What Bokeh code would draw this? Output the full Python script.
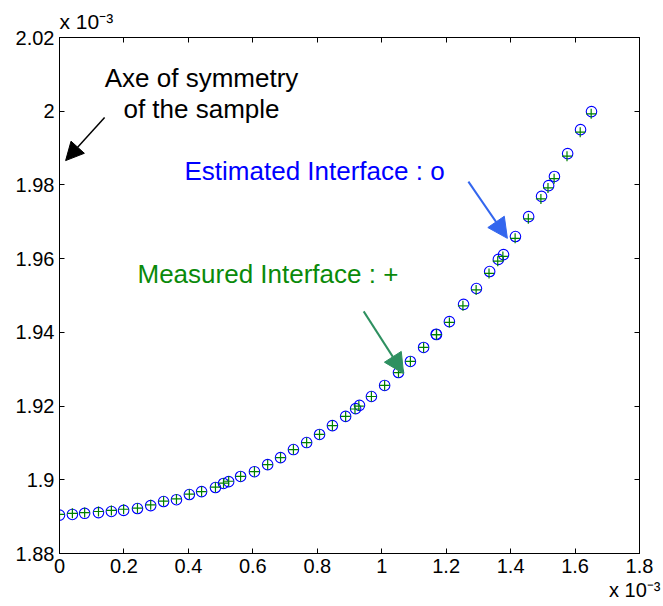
from bokeh.plotting import figure
from bokeh.models import (Range1d, FixedTicker, LinearAxis, Label, Arrow,
                          NormalHead, CustomJSTickFormatter, Title)
from bokeh.embed import file_html
from bokeh.resources import INLINE

# values in units of 1e-3 (axes show "x 10^-3")
x_est = [0.000, 0.040, 0.078, 0.121, 0.161, 0.199, 0.242, 0.283, 0.323, 0.363,
         0.403, 0.441, 0.484, 0.509, 0.525, 0.562, 0.605, 0.646, 0.686, 0.726,
         0.767, 0.807, 0.847, 0.888, 0.919, 0.931, 0.968, 1.009, 1.052, 1.089,
         1.130, 1.169, 1.170, 1.210, 1.254, 1.294, 1.335, 1.362, 1.378, 1.415,
         1.456, 1.496, 1.518, 1.536, 1.577, 1.617, 1.651]
y_est = [1.8904, 1.8906, 1.8909, 1.8911, 1.8914, 1.8917, 1.8922, 1.8930, 1.8941, 1.8946,
         1.8960, 1.8968, 1.8979, 1.8990, 1.8995, 1.9009, 1.9022, 1.9041, 1.9060, 1.9082,
         1.9101, 1.9123, 1.9147, 1.9172, 1.9193, 1.9202, 1.9226, 1.9256, 1.9291, 1.9321,
         1.9359, 1.9395, 1.9394, 1.9429, 1.9476, 1.9519, 1.9565, 1.9598, 1.9611, 1.9660,
         1.9714, 1.9769, 1.9798, 1.9823, 1.9885, 1.9950, 1.9999]

x_meas = [0.000, 0.040, 0.078, 0.121, 0.161, 0.199, 0.242, 0.283, 0.323, 0.363,
          0.403, 0.441, 0.484, 0.509, 0.525, 0.562, 0.605, 0.646, 0.686, 0.726,
          0.767, 0.807, 0.847, 0.888, 0.917, 0.929, 0.968, 1.009, 1.052, 1.089,
          1.130, 1.170, 1.170, 1.210, 1.252, 1.293, 1.333, 1.360, 1.376, 1.414,
          1.455, 1.494, 1.516, 1.535, 1.575, 1.616, 1.650]
y_meas = [1.8906, 1.8909, 1.8911, 1.8914, 1.8917, 1.8920, 1.8923, 1.8932, 1.8942, 1.8948,
          1.8961, 1.8968, 1.8980, 1.8991, 1.8996, 1.9009, 1.9022, 1.9041, 1.9060, 1.9082,
          1.9101, 1.9123, 1.9147, 1.9172, 1.9192, 1.9200, 1.9226, 1.9256, 1.9291, 1.9321,
          1.9359, 1.9394, 1.9394, 1.9427, 1.9472, 1.9515, 1.9560, 1.9593, 1.9606, 1.9655,
          1.9708, 1.9762, 1.9792, 1.9817, 1.9878, 1.9943, 1.9993]

x_ticks = [0, 0.2, 0.4, 0.6, 0.8, 1.0, 1.2, 1.4, 1.6, 1.8]
y_ticks = [1.88, 1.90, 1.92, 1.94, 1.96, 1.98, 2.00, 2.02]

FONT = "Liberation Sans"

p = figure(width=663, height=606, output_backend="svg", toolbar_location=None,
           x_range=Range1d(0, 1.8), y_range=Range1d(1.88, 2.02),
           min_border_left=59, min_border_right=24, min_border_top=37,
           min_border_bottom=53)
p.grid.visible = False
p.outline_line_color = "black"
p.background_fill_color = "white"
p.border_fill_color = "white"

fmt = CustomJSTickFormatter(code="return String(Math.round(tick*1000)/1000);")

for ax, ticks in ((p.xaxis[0], x_ticks), (p.yaxis[0], y_ticks)):
    ax.ticker = FixedTicker(ticks=ticks)
    ax.formatter = fmt
    ax.major_tick_in = 5
    ax.major_tick_out = 0
    ax.minor_tick_line_color = None
    ax.axis_line_color = "black"
    ax.major_tick_line_color = "black"
    ax.major_label_text_font = FONT
    ax.major_label_text_font_size = "20px"
    ax.major_label_text_color = "black"
p.xaxis[0].major_label_standoff = 5
p.yaxis[0].major_label_standoff = 5

for place, ticks in (("above", x_ticks), ("right", y_ticks)):
    ax = LinearAxis(ticker=FixedTicker(ticks=ticks), major_label_text_color=None,
                    major_label_text_font_size="1px", major_tick_in=5,
                    major_tick_out=0, minor_tick_line_color=None,
                    major_label_standoff=0, axis_line_color="black")
    p.add_layout(ax, place)

p.scatter(x_est, y_est, marker="circle", size=10.5, fill_color=None,
          line_color="#0000ff", line_width=1.1)
p.scatter(x_meas, y_meas, marker="cross", size=10, line_color="#008000",
          line_width=1.2)

# annotations
def lab(x, y, text, color, align="left"):
    p.add_layout(Label(x=x, y=y, y_offset=10, text=text, text_align=align,
                       text_baseline="alphabetic", text_font=FONT,
                       text_font_size="26px", text_color=color))

lab(0.4407, 2.0064, "Axe of symmetry", "black", "center")
lab(0.4407, 1.9980, "of the sample", "black", "center")
lab(0.388, 1.9812, "Estimated Interface : o", "#0000ff")
lab(0.242, 1.9530, "Measured Interface : +", "#0a8a0a")

p.add_layout(Arrow(x_start=0.140, y_start=1.9983, x_end=0.019, y_end=1.9866,
                   line_color="black", line_width=1.5,
                   end=NormalHead(size=18, fill_color="black", line_color="black")))
p.add_layout(Arrow(x_start=1.269, y_start=1.9809, x_end=1.390, y_end=1.9655,
                   line_color="#3366ee", line_width=2,
                   end=NormalHead(size=20, fill_color="#3366ee", line_color="#3366ee")))
p.add_layout(Arrow(x_start=0.944, y_start=1.9457, x_end=1.068, y_end=1.9288,
                   line_color="#2e9060", line_width=2,
                   end=NormalHead(size=20, fill_color="#2e9060", line_color="#2e9060")))

# exponent labels (outside the frame)
p.add_layout(Title(text="x 10\u207b\u00b3", align="left", offset=0, standoff=10,
                   text_font=FONT, text_font_size="21px", text_font_style="normal",
                   text_color="black"), "above")
p.add_layout(Title(text="x 10\u207b\u00b3", align="right", offset=-21, standoff=3,
                   text_font=FONT, text_font_size="20px", text_font_style="normal",
                   text_color="black"), "below")

open("out.html", "w").write(file_html(p, INLINE))
